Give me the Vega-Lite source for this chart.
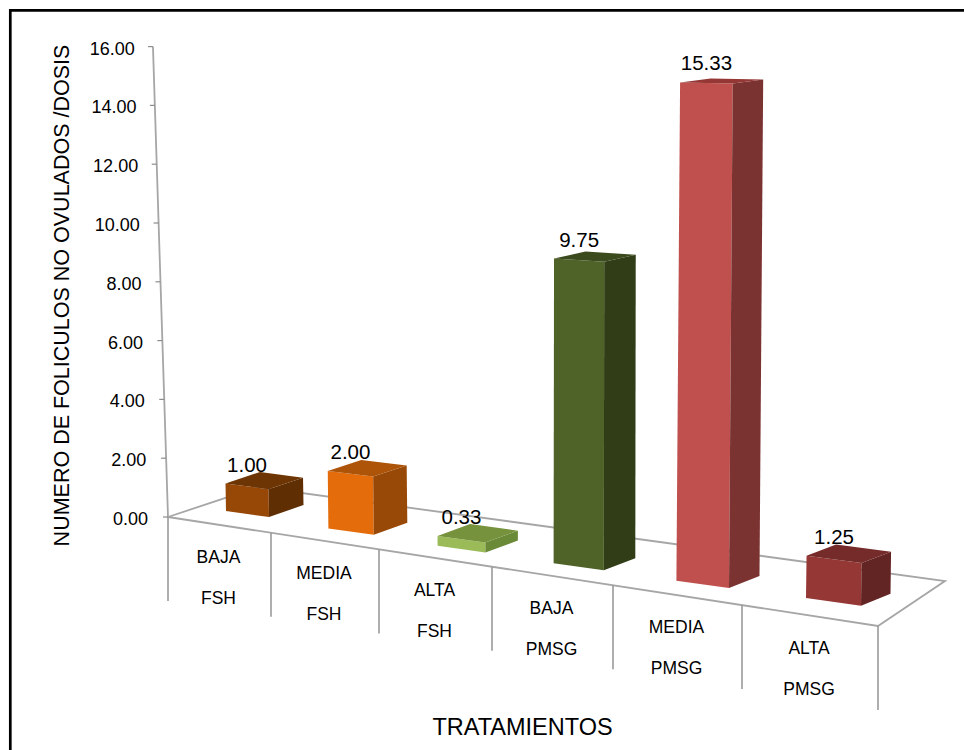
{
  "$schema": "https://vega.github.io/schema/vega-lite/v6.json",
  "width": 964,
  "height": 750,
  "padding": 0,
  "autosize": {"type": "none"},
  "background": "#ffffff",
  "view": {"stroke": null},
  "config": {"text": {"font": "Liberation Sans", "color": "#000000"}},
  "datasets": {
    "barras": [
      {"orden": 0, "dosis": "BAJA", "hormona": "FSH", "valor": 1.00},
      {"orden": 1, "dosis": "MEDIA", "hormona": "FSH", "valor": 2.00},
      {"orden": 2, "dosis": "ALTA", "hormona": "FSH", "valor": 0.33},
      {"orden": 3, "dosis": "BAJA", "hormona": "PMSG", "valor": 9.75},
      {"orden": 4, "dosis": "MEDIA", "hormona": "PMSG", "valor": 15.33},
      {"orden": 5, "dosis": "ALTA", "hormona": "PMSG", "valor": 1.25}
    ],
    "divisiones": [{"k": 0}, {"k": 1}, {"k": 2}, {"k": 3}, {"k": 4}, {"k": 5}, {"k": 6}],
    "escala": [{"v": 0}, {"v": 2}, {"v": 4}, {"v": 6}, {"v": 8}, {"v": 10}, {"v": 12}, {"v": 14}, {"v": 16}],
    "piso": [{"n": 0}, {"n": 1}, {"n": 2}, {"n": 3}, {"n": 4}],
    "marco": [{"n": 0}, {"n": 1}, {"n": 2}]
  },
  "encoding": {
    "x": {
      "field": "x",
      "type": "quantitative",
      "scale": {"domain": [-2.26, 7.38], "nice": false, "zero": false},
      "axis": {
        "title": "TRATAMIENTOS",
        "labels": false,
        "ticks": false,
        "domain": false,
        "grid": false,
        "titleFont": "Liberation Sans",
        "titleFontSize": 23.5,
        "titleFontWeight": "normal",
        "titleColor": "#000000",
        "titleX": 522,
        "titleY": -23,
        "titleBaseline": "middle",
        "titleAnchor": "middle",
        "titleAlign": "center"
      }
    },
    "y": {
      "field": "y",
      "type": "quantitative",
      "scale": {"domain": [-7.925, 17.585], "nice": false, "zero": false},
      "axis": {
        "title": "NUMERO DE FOLICULOS NO OVULADOS /DOSIS",
        "labels": false,
        "ticks": false,
        "domain": false,
        "grid": false,
        "titleFont": "Liberation Sans",
        "titleFontSize": 21.5,
        "titleFontWeight": "normal",
        "titleColor": "#000000",
        "titleX": 62,
        "titleY": 295,
        "titleAngle": 270,
        "titleBaseline": "middle",
        "titleAnchor": "middle",
        "titleAlign": "center"
      }
    }
  },
  "layer": [
    {
      "data": {"name": "piso"},
      "transform": [
        {"calculate": "[-0.58, 6.52, 7.19, 0.32, -0.58][datum.n]", "as": "x"},
        {"calculate": "[0, -3.707, -2.177, 1.02, 0][datum.n]", "as": "y"}
      ],
      "mark": {"type": "line", "color": "#a6a6a6", "strokeWidth": 1.8},
      "encoding": {"order": {"field": "n"}}
    },
    {
      "data": {"name": "divisiones"},
      "transform": [
        {"calculate": "[-0.58, 0.45, 1.53, 2.66, 3.87, 5.16, 6.52][datum.k]", "as": "x"},
        {"calculate": "-0.522 * (datum.x + 0.58)", "as": "y"},
        {"calculate": "datum.x", "as": "x2"},
        {"calculate": "datum.y - 2.857", "as": "y2"}
      ],
      "mark": {"type": "rule", "color": "#9a9a9a", "strokeWidth": 1.6},
      "encoding": {"x2": {"field": "x2"}, "y2": {"field": "y2"}}
    },
    {
      "data": {"name": "escala"},
      "transform": [
        {"calculate": "-0.58 - 0.0094 * datum.v", "as": "x"},
        {"calculate": "datum.v", "as": "y"}
      ],
      "mark": {"type": "line", "color": "#a6a6a6", "strokeWidth": 1.8},
      "encoding": {"order": {"field": "v"}}
    },
    {
      "data": {"name": "escala"},
      "transform": [
        {"calculate": "-0.58 - 0.0094 * datum.v", "as": "x"},
        {"calculate": "datum.x - 0.05", "as": "x2"},
        {"calculate": "datum.v", "as": "y"},
        {"calculate": "datum.v", "as": "y2"}
      ],
      "mark": {"type": "rule", "color": "#8c8c8c", "strokeWidth": 1.2},
      "encoding": {"x2": {"field": "x2"}, "y2": {"field": "y2"}}
    },
    {
      "data": {"name": "escala"},
      "transform": [
        {"calculate": "-0.58 - 0.0082 * datum.v - 0.2", "as": "x"},
        {"calculate": "datum.v", "as": "y"},
        {"calculate": "format(datum.v, '.2f')", "as": "rotulo"}
      ],
      "mark": {"type": "text", "align": "right", "baseline": "middle", "fontSize": 18, "dy": 3},
      "encoding": {"text": {"field": "rotulo"}}
    },
    {
      "data": {"name": "barras"},
      "transform": [
        {"calculate": "0.99 * datum.orden + 0.034 * datum.orden * datum.orden", "as": "xL"},
        {"calculate": "0.43 + 0.024 * datum.orden", "as": "w"},
        {"calculate": "0.345 - 0.01 * datum.orden", "as": "d"},
        {"calculate": "0.204 - 0.592 * datum.orden", "as": "b"},
        {"calculate": "datum.valor * (27.5 + 1.25 * datum.orden) / 29.4", "as": "H"},
        {"calculate": "datum.valor * 0.0016 * (datum.xL - 3)", "as": "lean"},
        {"calculate": "datum.b - 0.476 * datum.w", "as": "baseDer"},
        {"calculate": "datum.b + datum.H", "as": "topIzq"},
        {"calculate": "datum.topIzq - (0.476 - 0.0265 * datum.valor) * datum.w", "as": "topDer"},
        {"calculate": "0.408 - 0.0177 * datum.valor", "as": "fondo"},
        {
          "calculate": "[[datum.xL, datum.b], [datum.xL + datum.w, datum.baseDer], [datum.xL + datum.w + datum.d, datum.baseDer + 0.408], [datum.xL + datum.lean, datum.topIzq], [datum.xL + datum.w + datum.lean, datum.topDer], [datum.xL + datum.w + datum.d + datum.lean, datum.topDer + datum.fondo], [datum.xL + datum.d + datum.lean, datum.topIzq + datum.fondo]]",
          "as": "puntos"
        },
        {
          "calculate": "[{c:'frente',n:0,p:0},{c:'frente',n:1,p:1},{c:'frente',n:2,p:4},{c:'frente',n:3,p:3},{c:'lado',n:0,p:1},{c:'lado',n:1,p:2},{c:'lado',n:2,p:5},{c:'lado',n:3,p:4},{c:'tapa',n:0,p:3},{c:'tapa',n:1,p:4},{c:'tapa',n:2,p:5},{c:'tapa',n:3,p:6}]",
          "as": "vertices"
        },
        {"flatten": ["vertices"]},
        {"calculate": "datum.puntos[datum.vertices.p][0]", "as": "x"},
        {"calculate": "datum.puntos[datum.vertices.p][1]", "as": "y"},
        {"calculate": "datum.vertices.n", "as": "n"},
        {"calculate": "datum.dosis + ' ' + datum.hormona + ' ' + datum.vertices.c", "as": "cara"}
      ],
      "mark": {"type": "line", "filled": true, "strokeWidth": 0},
      "encoding": {
        "order": {"field": "n"},
        "color": {
          "field": "cara",
          "type": "nominal",
          "legend": null,
          "scale": {
            "domain": [
              "BAJA FSH frente", "BAJA FSH lado", "BAJA FSH tapa",
              "MEDIA FSH frente", "MEDIA FSH lado", "MEDIA FSH tapa",
              "ALTA FSH frente", "ALTA FSH lado", "ALTA FSH tapa",
              "BAJA PMSG frente", "BAJA PMSG lado", "BAJA PMSG tapa",
              "MEDIA PMSG frente", "MEDIA PMSG lado", "MEDIA PMSG tapa",
              "ALTA PMSG frente", "ALTA PMSG lado", "ALTA PMSG tapa"
            ],
            "range": [
              "#974706", "#5f2e03", "#6e3504",
              "#e46c0a", "#984807", "#ad5408",
              "#9bbb59", "#6a8a38", "#76923c",
              "#4f6228", "#313d17", "#3c4b1e",
              "#c0504d", "#7b3331", "#953735",
              "#953735", "#632523", "#742b29"
            ]
          }
        }
      }
    },
    {
      "data": {"name": "barras"},
      "transform": [
        {"calculate": "0.99 * datum.orden + 0.034 * datum.orden * datum.orden", "as": "xL"},
        {"calculate": "datum.xL + (0.43 + 0.024 * datum.orden) / 2 + datum.valor * 0.0016 * (datum.xL - 3)", "as": "x"},
        {"calculate": "0.204 - 0.592 * datum.orden + datum.valor * (27.5 + 1.25 * datum.orden) / 29.4", "as": "y"}
      ],
      "mark": {"type": "text", "align": "center", "baseline": "middle", "fontSize": 20.5, "dy": -18},
      "encoding": {"text": {"field": "valor", "type": "quantitative", "format": ".2f"}}
    },
    {
      "data": {"name": "barras"},
      "transform": [
        {"calculate": "([-0.58, 0.45, 1.53, 2.66, 3.87, 5.16, 6.52][datum.orden] + [-0.58, 0.45, 1.53, 2.66, 3.87, 5.16, 6.52][datum.orden + 1]) / 2", "as": "x"},
        {"calculate": "-0.522 * (datum.x + 0.58)", "as": "y"}
      ],
      "mark": {"type": "text", "align": "center", "baseline": "middle", "fontSize": 17.5, "dy": 33, "dx": -1},
      "encoding": {"text": {"field": "dosis"}}
    },
    {
      "data": {"name": "barras"},
      "transform": [
        {"calculate": "([-0.58, 0.45, 1.53, 2.66, 3.87, 5.16, 6.52][datum.orden] + [-0.58, 0.45, 1.53, 2.66, 3.87, 5.16, 6.52][datum.orden + 1]) / 2", "as": "x"},
        {"calculate": "-0.522 * (datum.x + 0.58)", "as": "y"}
      ],
      "mark": {"type": "text", "align": "center", "baseline": "middle", "fontSize": 17.5, "dy": 74, "dx": -1},
      "encoding": {"text": {"field": "hormona"}}
    },
    {
      "data": {"name": "marco"},
      "transform": [
        {"calculate": "[7.38, -2.157, -2.157][datum.n]", "as": "x"},
        {"calculate": "[17.23, 17.23, -7.925][datum.n]", "as": "y"}
      ],
      "mark": {"type": "line", "color": "#000000", "strokeWidth": 2.7, "strokeJoin": "miter"},
      "encoding": {"order": {"field": "n"}}
    }
  ]
}
